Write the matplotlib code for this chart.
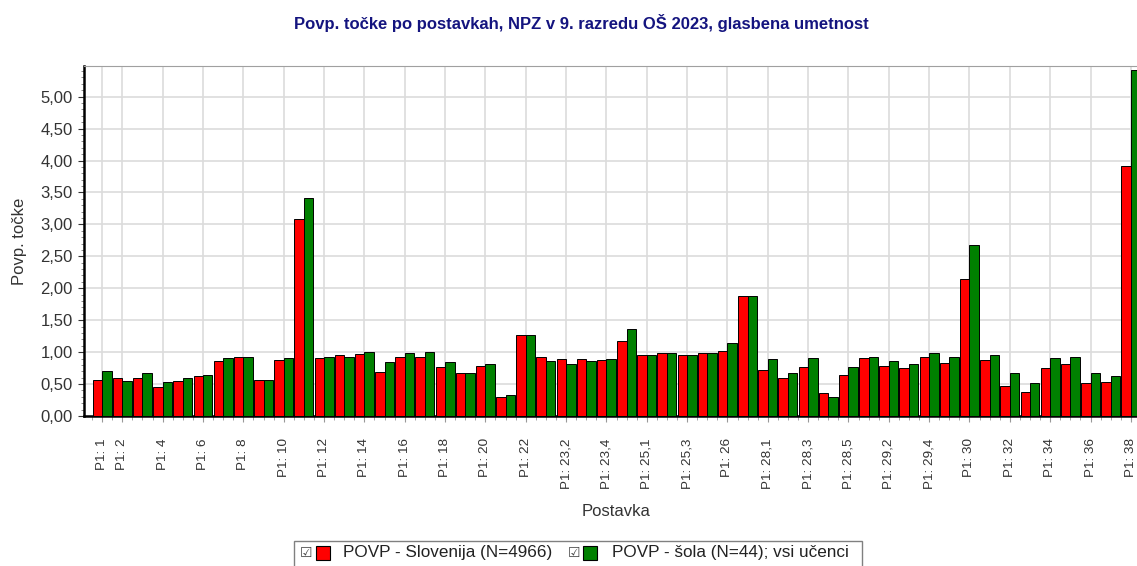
#!/usr/bin/env python
"""
Povp. tocke po postavkah, NPZ v 9. razredu OS 2023, glasbena umetnost.
"""

# Third party modules.
import numpy as np
import matplotlib
matplotlib.use("Agg")
import matplotlib.pyplot as plt
from matplotlib.patches import Rectangle
from matplotlib.ticker import FixedLocator, MultipleLocator, FuncFormatter

# Globals and constants variables.
categories = ["P1: 1", "P1: 2", "P1: 3", "P1: 4", "P1: 5", "P1: 6", "P1: 7",
              "P1: 8", "P1: 9", "P1: 10", "P1: 11", "P1: 12", "P1: 13",
              "P1: 14", "P1: 15", "P1: 16", "P1: 17", "P1: 18", "P1: 19",
              "P1: 20", "P1: 21", "P1: 22", "P1: 23,1", "P1: 23,2",
              "P1: 23,3", "P1: 23,4", "P1: 24", "P1: 25,1", "P1: 25,2",
              "P1: 25,3", "P1: 25,4", "P1: 26", "P1: 27", "P1: 28,1",
              "P1: 28,2", "P1: 28,3", "P1: 28,4", "P1: 28,5", "P1: 29,1",
              "P1: 29,2", "P1: 29,3", "P1: 29,4", "P1: 29,5", "P1: 30",
              "P1: 31", "P1: 32", "P1: 33", "P1: 34", "P1: 35", "P1: 36",
              "P1: 37", "P1: 38"]

slovenija = [0.57, 0.59, 0.60, 0.46, 0.55, 0.62, 0.86, 0.93, 0.57, 0.88,
             3.09, 0.91, 0.95, 0.97, 0.69, 0.93, 0.93, 0.76, 0.67, 0.78,
             0.30, 1.27, 0.93, 0.89, 0.89, 0.88, 1.17, 0.96, 0.98, 0.96,
             0.98, 1.01, 1.88, 0.72, 0.60, 0.76, 0.36, 0.64, 0.91, 0.79,
             0.75, 0.93, 0.83, 2.15, 0.88, 0.47, 0.38, 0.75, 0.82, 0.51,
             0.54, 3.92]

sola = [0.70, 0.55, 0.67, 0.53, 0.59, 0.64, 0.91, 0.93, 0.57, 0.91,
        3.42, 0.93, 0.93, 1.00, 0.85, 0.98, 1.00, 0.85, 0.67, 0.82,
        0.33, 1.27, 0.86, 0.82, 0.86, 0.89, 1.37, 0.95, 0.98, 0.95,
        0.98, 1.15, 1.88, 0.89, 0.67, 0.91, 0.30, 0.77, 0.93, 0.86,
        0.82, 0.98, 0.93, 2.67, 0.95, 0.68, 0.51, 0.91, 0.93, 0.68,
        0.62, 5.42]

legend_labels = ["POVP - Slovenija (N=4966)", "POVP - šola (N=44); vsi učenci"]
colors = ["#ff0000", "#008000"]

W, H = 1137, 566


def fig_xy(x, y):
    # pixel coords (top-left origin) -> figure fraction
    return x / W, 1 - y / H


def run():
    plt.rcParams["font.family"] = ["Liberation Sans", "DejaVu Sans"]
    plt.rcParams["font.size"] = 10

    fig = plt.figure(figsize=(W / 100, H / 100), dpi=100)
    left, top, right, bottom = 84, 66, 1149, 416
    ax = fig.add_axes([left / W, 1 - bottom / H, (right - left) / W,
                       (bottom - top) / H])

    x = np.arange(len(categories))
    bw = 0.47
    ax.bar(x - bw / 2, slovenija, bw, color=colors[0], edgecolor="black",
           linewidth=0.7, zorder=3)
    ax.bar(x + bw / 2, sola, bw, color=colors[1], edgecolor="black",
           linewidth=0.7, zorder=3)

    ax.set_xlim(-0.9, 51.9)
    ax.set_ylim(0, 5.48)

    shown = [0] + list(range(1, len(categories), 2))
    ax.xaxis.set_major_locator(FixedLocator(shown))
    ax.set_xticklabels([categories[i] for i in shown], rotation=90,
                       color="#333333", fontsize=9.7)
    ax.xaxis.set_minor_locator(MultipleLocator(0.5))
    ax.tick_params(axis="x", which="major", length=4, pad=12,
                   color="#999999")
    ax.tick_params(axis="x", which="minor", length=3, color="#999999")

    ax.yaxis.set_major_locator(MultipleLocator(0.5))
    ax.yaxis.set_minor_locator(MultipleLocator(0.1))
    ax.yaxis.set_major_formatter(
        FuncFormatter(lambda v, p: ("%.2f" % v).replace(".", ",")))
    ax.tick_params(axis="y", which="major", length=4, pad=4,
                   colors="#333333", labelsize=12)
    ax.tick_params(axis="y", which="minor", length=2, color="#777777")

    ax.grid(True, which="major", color="#dcdcdc", linewidth=1.2)
    ax.set_axisbelow(True)

    ax.spines["left"].set_linewidth(1.8)
    ax.spines["bottom"].set_linewidth(1.8)
    ax.spines["top"].set_color("#a0a0a0")
    ax.spines["right"].set_visible(False)

    ax.set_xlabel("Postavka", color="#333333", fontsize=12, labelpad=11)
    ax.set_ylabel("Povp. točke", color="#333333", fontsize=12, labelpad=10)

    tx, ty = fig_xy(581, 23)
    fig.text(tx, ty, "Povp. točke po postavkah, NPZ v 9. razredu OŠ 2023, "
             "glasbena umetnost", ha="center", va="center",
             fontweight="bold", color="#14147f", fontsize=12)

    # legend box at bottom
    bx0, by0 = fig_xy(294, 572)
    bx1, by1 = fig_xy(862, 541)
    fig.add_artist(Rectangle((bx0, by0), bx1 - bx0, by1 - by0,
                             transform=fig.transFigure, facecolor="white",
                             edgecolor="#808080", linewidth=1))
    items = [(300, 316, 343), (568, 583, 612)]
    for (cbx, sqx, txx), lab, col in zip(items, legend_labels, colors):
        cx, cy = fig_xy(cbx, 553)
        fig.text(cx, cy, "☑", family="DejaVu Sans", fontsize=10,
                 ha="left", va="center", color="#444444")
        sx, sy = fig_xy(sqx, 560)
        sw = 14 / W
        sh = 14 / H
        fig.add_artist(Rectangle((sx, sy), sw, sh, transform=fig.transFigure,
                                 facecolor=col, edgecolor="black",
                                 linewidth=0.8))
        lx, ly = fig_xy(txx, 553)
        fig.text(lx, ly, lab, ha="left", va="center", color="#222222",
                 fontsize=12.3)

    fig.savefig("out.png", dpi=100)


if __name__ == '__main__':
    run()
